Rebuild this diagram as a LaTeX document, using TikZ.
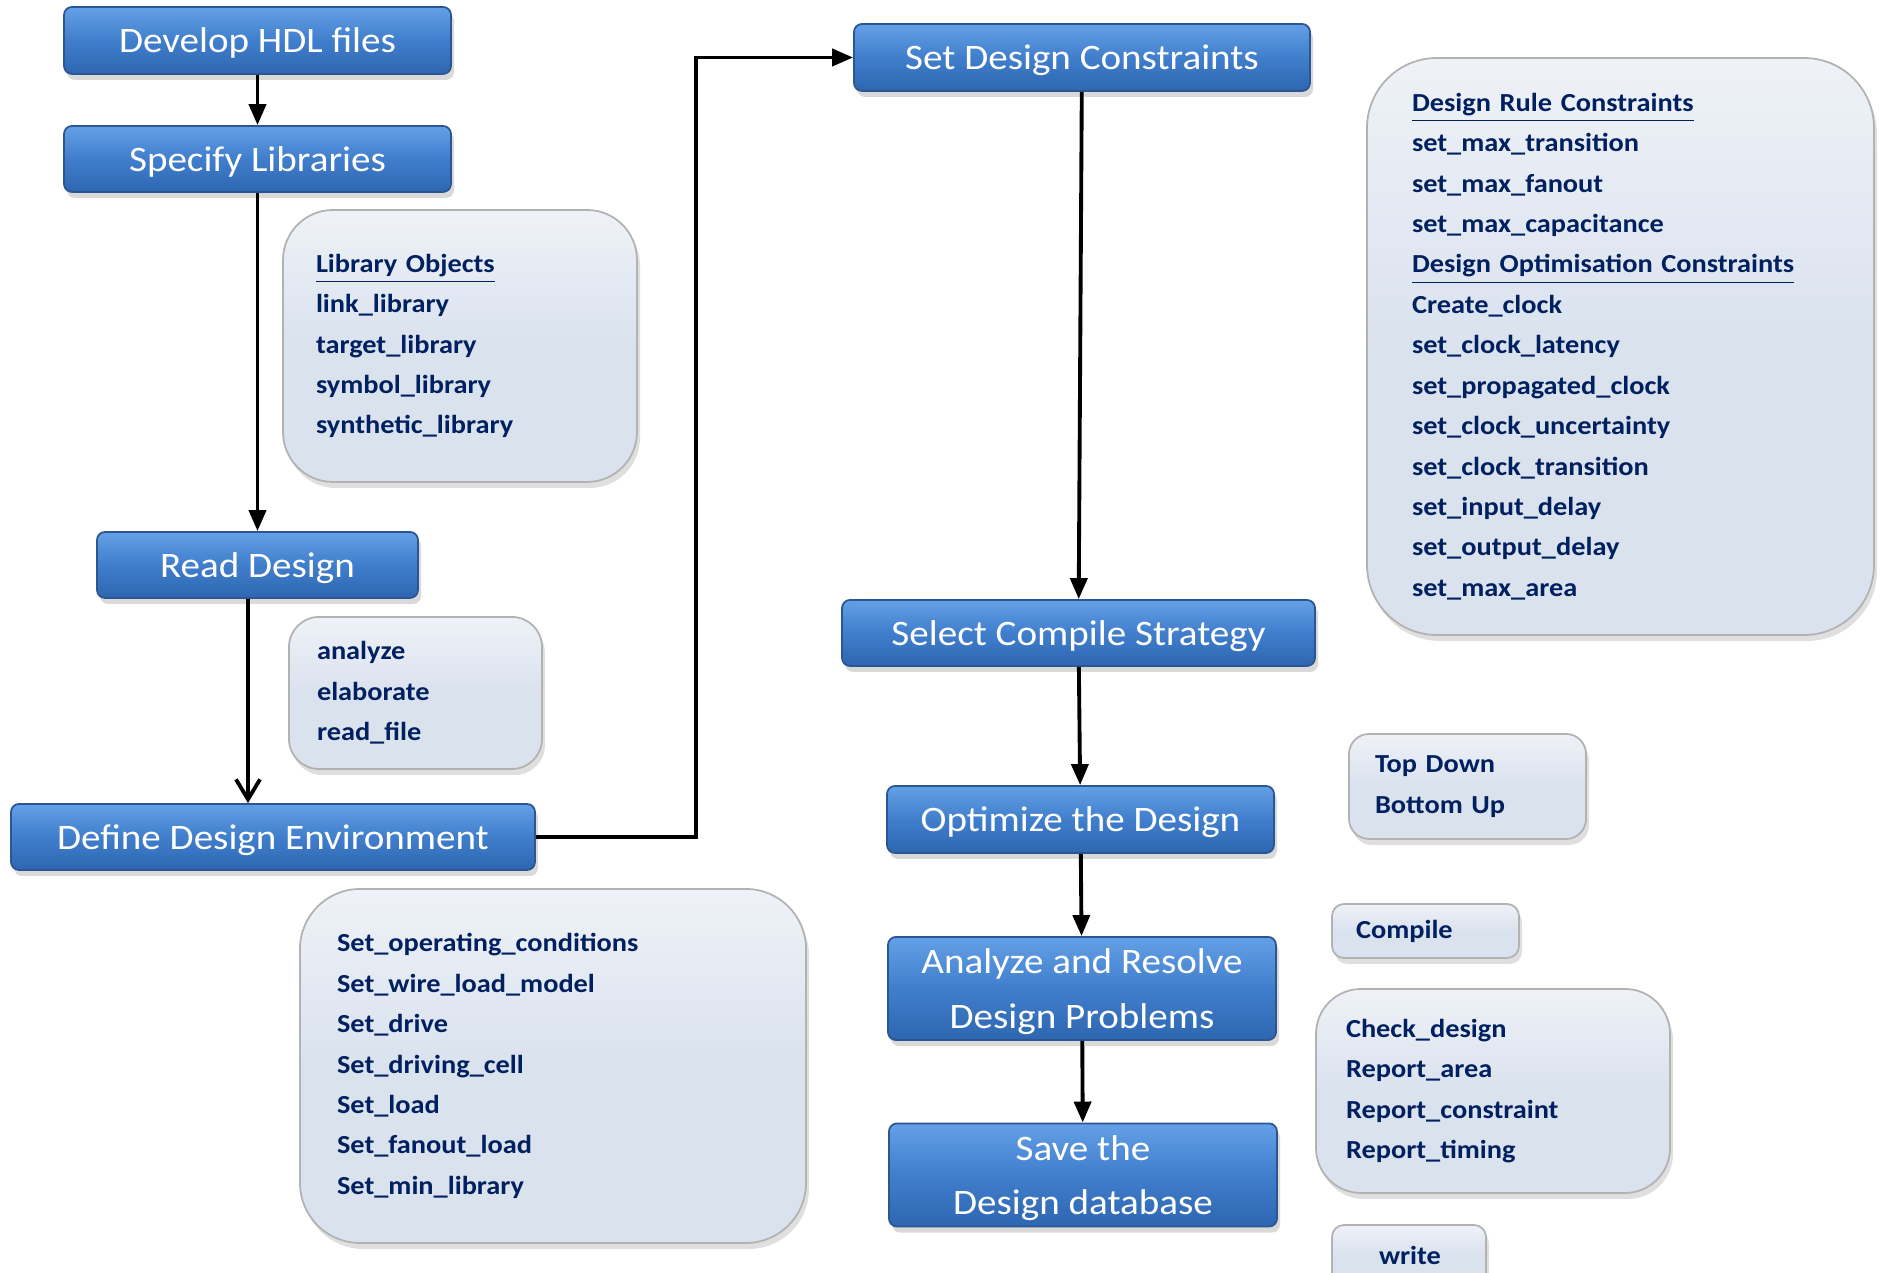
\documentclass[tikz,border=0pt]{standalone}
\usepackage{fontspec}
\setmainfont{Carlito}[FakeStretch=1.09]
\usetikzlibrary{arrows.meta, shadows, calc}
\definecolor{flowmid}{RGB}{64,126,204}
\definecolor{flowtop}{RGB}{100,160,230}
\definecolor{flowbottom}{RGB}{46,102,176}
\definecolor{flowline}{RGB}{44,86,146}
\definecolor{cmdfill}{RGB}{218,226,238}
\definecolor{cmdtext}{RGB}{0,32,96}
\tikzset{>={Triangle[length=2.1mm,width=1.7mm]},
  flowbox/.style={draw=flowline, line width=0.5pt, rounded corners=0.8mm,
    top color=flowtop, bottom color=flowbottom, middle color=flowmid,
    text=white, align=center, text depth=0pt, font=\fontsize{10.2}{15.6}\selectfont,
    drop shadow={shadow xshift=0.3mm, shadow yshift=-0.6mm, opacity=0.3}},
  cmdbox/.style={draw=gray!60, line width=0.5pt,
    top color=white!55!cmdfill, bottom color=cmdfill, middle color=cmdfill,
    text=cmdtext, align=left, font=\bfseries\fontsize{7.4}{11.5}\selectfont,
    drop shadow={shadow xshift=0.3mm, shadow yshift=-0.6mm, opacity=0.25}},
  flow/.style={->, line width=1.1pt}}

\begin{document}
\begin{tikzpicture}
			\useasboundingbox (0,0) rectangle (18.81,12.73);
			\clip (0,0) rectangle (18.81,12.73);

			% left column
			\node[flowbox, minimum width=3.87cm, minimum height=0.67cm] (dev) at (2.575,12.325) {Develop HDL files};
			\node[flowbox, minimum width=3.87cm, minimum height=0.66cm] (spec) at (2.575,11.14) {Specify Libraries};
			\node[flowbox, minimum width=3.21cm, minimum height=0.66cm] (read) at (2.575,7.08) {Read Design};
			\node[flowbox, minimum width=5.24cm, minimum height=0.66cm] (define) at (2.73,4.36) {Define Design Environment};

			\node[cmdbox, rounded corners=5mm, text width=2.88cm, inner xsep=3.3mm, minimum height=2.72cm] (libobj) at (4.60,9.27)
				{\underline{Library Objects}\\link\_library\\target\_library\\symbol\_library\\synthetic\_library};
			\node[cmdbox, rounded corners=3mm, text width=1.97cm, inner xsep=2.8mm, minimum height=1.52cm] (readcmd) at (4.155,5.80)
				{analyze\\elaborate\\read\_file};
			\node[cmdbox, rounded corners=6mm, text width=4.32cm, inner xsep=3.7mm, minimum height=3.54cm] (envcmd) at (5.53,2.07)
				{Set\_operating\_conditions\\Set\_wire\_load\_model\\Set\_drive\\Set\_driving\_cell\\Set\_load\\Set\_fanout\_load\\Set\_min\_library};

			% right column
			\node[flowbox, minimum width=4.56cm, minimum height=0.67cm] (setc) at (10.82,12.155) {Set Design Constraints};
			\node[flowbox, minimum width=4.73cm, minimum height=0.66cm] (select) at (10.785,6.40) {Select Compile Strategy};
			\node[flowbox, minimum width=3.87cm, minimum height=0.67cm] (opt) at (10.805,4.535) {Optimize the Design};
			\node[flowbox, minimum width=3.88cm, minimum height=1.01cm] (anr) at (10.82,2.845) {Analyze and Resolve\\Design Problems};
			\node[flowbox, minimum width=3.88cm, minimum height=1.02cm] (save) at (10.83,0.98) {Save the\\Design database};

			\node[cmdbox, rounded corners=7mm, text width=4.17cm, inner xsep=4.5mm, minimum height=5.77cm] (constr) at (16.205,9.265)
				{\underline{Design Rule Constraints}\\set\_max\_transition\\set\_max\_fanout\\set\_max\_capacitance\\
				\underline{Design Optimisation Constraints}\\Create\_clock\\set\_clock\_latency\\set\_propagated\_clock\\
				set\_clock\_uncertainty\\set\_clock\_transition\\set\_input\_delay\\set\_output\_delay\\set\_max\_area};
			\node[cmdbox, rounded corners=2mm, text width=1.85cm, inner xsep=2.6mm, minimum height=1.05cm] (strat) at (14.675,4.865)
				{Top Down\\Bottom Up};
			\node[cmdbox, rounded corners=1.2mm, text width=1.39cm, inner xsep=2.4mm, minimum height=0.54cm] (compile) at (14.255,3.42)
				{Compile};
			\node[cmdbox, rounded corners=4.5mm, text width=2.94cm, inner xsep=3mm, minimum height=2.04cm] (check) at (14.93,1.82)
				{Check\_design\\Report\_area\\Report\_constraint\\Report\_timing};
			\node[cmdbox, rounded corners=1.2mm, text width=0.60cm, inner xsep=4.7mm, minimum height=0.60cm] (write) at (14.09,0.18)
				{write};

			% connectors
			\draw[flow] (dev) -- (spec);
			\draw[flow] (spec) -- (read);
			\coordinate (rdout) at ($(read.south)+(-0.095,0)$);
			\draw[flow, -{Straight Barb[length=2mm,width=2.4mm]}] (rdout) -- (rdout |- define.north);
			\draw[flow] (define.east) -- ++(1.6,0) |- (setc.west);
			\draw[flow] (setc) -- (select);
			\draw[flow] (select) -- (opt);
			\draw[flow] (opt) -- (anr);
			\draw[flow] (anr) -- (save);
		\end{tikzpicture}
\end{document}
